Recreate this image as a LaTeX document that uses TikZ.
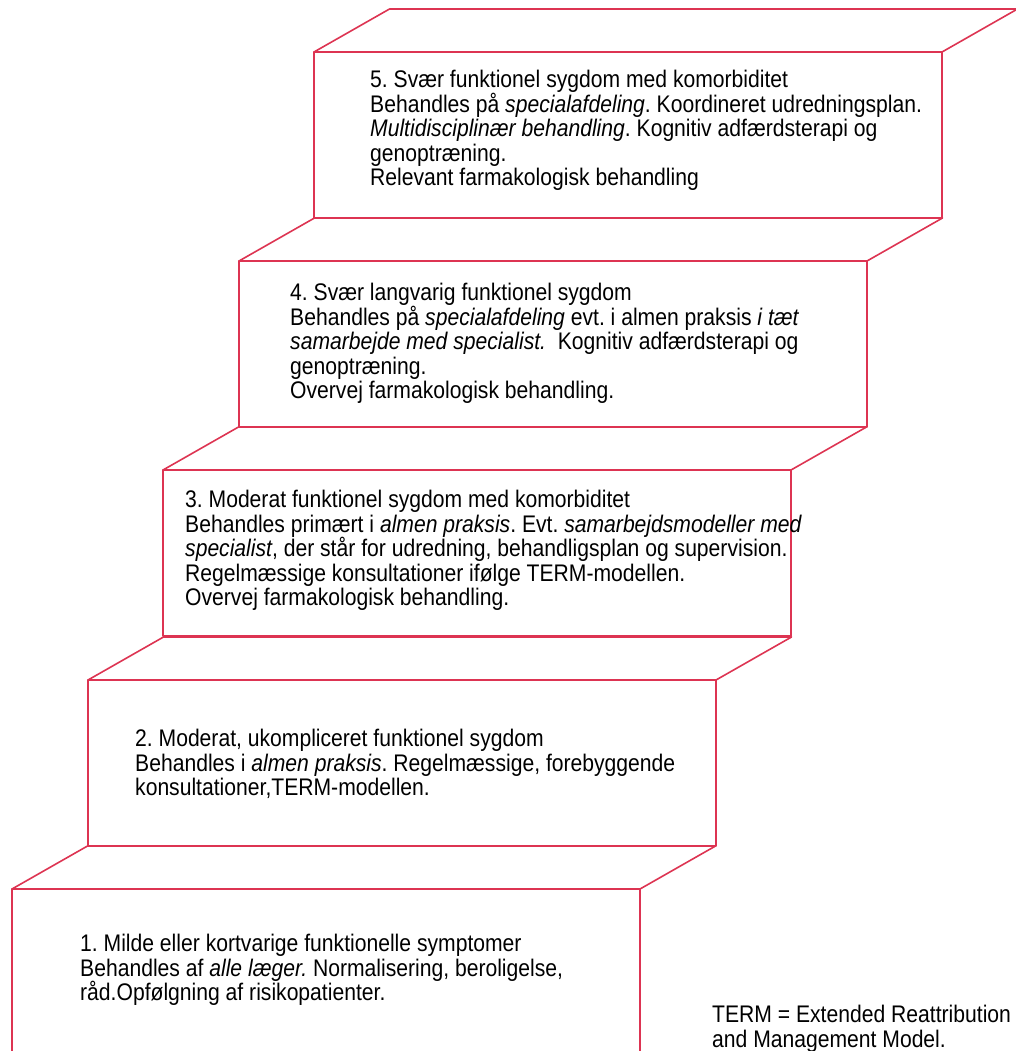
\documentclass[tikz,border=0pt]{standalone}
\usepackage{fontspec}
\setmainfont{Liberation Sans}[FakeStretch=0.88]
\definecolor{trinrod}{RGB}{221,52,82}
\begin{document}
\frenchspacing
\begin{tikzpicture}[x=1pt,y=-1pt,
  trin/.style={draw=trinrod,line width=1.6pt,line join=round},
  tekst/.style={anchor=north west,inner sep=0pt,align=left,
    font=\fontsize{24}{24.5}\selectfont}]
\useasboundingbox (0,0) rectangle (1016,1051);
\draw[trin] (314,52) rectangle ++(628,166);
\draw[trin] (314,52) -- ++(75.5,-43) -- ++(628,0) -- ++(-75.5,43);
\draw[trin] (239,261) rectangle ++(628,166);
\draw[trin] (239,261) -- ++(75.5,-43) -- ++(628,0) -- ++(-75.5,43);
\draw[trin] (163,470) rectangle ++(628,166);
\draw[trin] (163,470) -- ++(75.5,-43) -- ++(628,0) -- ++(-75.5,43);
\draw[trin] (88,680) rectangle ++(628,166);
\draw[trin] (88,680) -- ++(75.5,-43) -- ++(628,0) -- ++(-75.5,43);
\draw[trin] (12,1060) -- ++(0,-171) -- ++(628,0) -- ++(0,171);
\draw[trin] (12,889) -- ++(75.5,-43) -- ++(628,0) -- ++(-75.5,43);
\node[tekst] (trin5) at (370,70) {5. Svær funktionel sygdom med komorbiditet\\
  Behandles på \textit{specialafdeling}. Koordineret udredningsplan.\\
  \textit{Multidisciplinær behandling}. Kognitiv adfærdsterapi og\\
  genoptræning.\\
  Relevant farmakologisk behandling};
\node[tekst] (trin4) at (290,283) {4. Svær langvarig funktionel sygdom\\
  Behandles på \textit{specialafdeling} evt. i almen praksis \textit{i tæt}\\
  \textit{samarbejde med specialist.}\ \ Kognitiv adfærdsterapi og\\
  genoptræning.\\
  Overvej farmakologisk behandling.};
\node[tekst] (trin3) at (185,490) {3. Moderat funktionel sygdom med komorbiditet\\
  Behandles primært i \textit{almen praksis}. Evt. \textit{samarbejdsmodeller med}\\
  \textit{specialist}, der står for udredning, behandligsplan og supervision.\\
  Regelmæssige konsultationer ifølge TERM-modellen.\\
  Overvej farmakologisk behandling.};
\node[tekst] (trin2) at (135,729) {2. Moderat, ukompliceret funktionel sygdom\\
  Behandles i \textit{almen praksis}. Regelmæssige, forebyggende\\
  konsultationer,TERM-modellen.};
\node[tekst] (trin1) at (80,934) {1. Milde eller kortvarige funktionelle symptomer\\
  Behandles af \textit{alle læger.} Normalisering, beroligelse,\\
  råd.Opfølgning af risikopatienter.};
\node[tekst] (term) at (712,1005) {TERM = Extended Reattribution\\
  and Management Model.};
\end{tikzpicture}
\end{document}
